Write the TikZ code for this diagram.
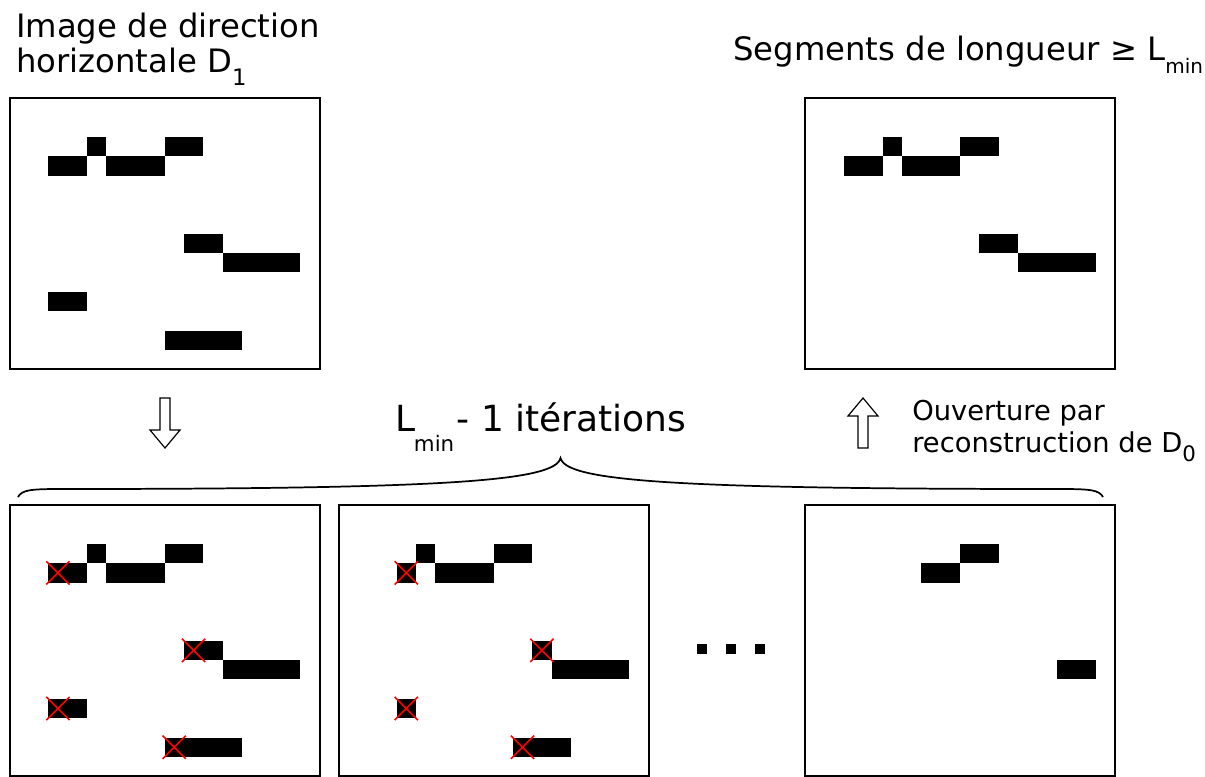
\documentclass[tikz,border=0pt]{standalone}
\usepackage{fontspec}
\setmainfont{DejaVu Sans}

% indice abaisse (D_1, L_min) : descente, taille, texte
\newcommand{\indice}[3]{\raisebox{#1}{\fontsize{#2}{#2}\selectfont #3}}

\tikzset{
  cadre/.style={draw=black, line width=1.5pt},
  croix/.style={draw=red, line width=1.2pt},
  grille/.style={x=14.53125pt, y=-14.53125pt},
  titre/.style={font=\fontsize{24.2}{28}\selectfont, inner sep=0pt, anchor=base west},
  legende/.style={font=\fontsize{20.5}{24}\selectfont, inner sep=0pt, anchor=base west},
  fleche/.style={draw=black, line width=0.9pt, fill=white},
  fleche creuse/.pic={\path[fleche] (-5,-25) -- (-5,7) -- (-15,7) -- (0,25) -- (15,7) -- (5,7) -- (5,-25) -- cycle;}
}

\begin{document}
\begin{tikzpicture}[x=0.75pt, y=-0.75pt]
  \useasboundingbox (0,0) rectangle (1205,776);

  % Textes
  \node[titre] (imgA) at (16,37) {Image de direction};
  \node[titre] (imgB) at (16,72) {horizontale D\indice{-10pt}{17}{1}};
  \node[titre] (segm) at (733,60) {Segments de longueur ≥ L\indice{-10pt}{15}{min}};
  \node[titre, font=\fontsize{27}{30}\selectfont] (iter) at (395,431) {L\kern-1pt\indice{-15pt}{16}{min}\kern2pt- 1 itérations};
  \node[legende] (ouv1) at (912,420) {Ouverture par};
  \node[legende] (ouv2) at (912,452) {reconstruction de D\indice{-7pt}{16}{0}};

  % Coins des images
  \foreach \nom/\x/\y in {A/9.5/98, B/805/98, C/9.5/505, D/338.5/505, E/805/505}
    \coordinate (\nom) at (\x,\y);

  % Image D1
  \begin{scope}[shift={(A)}, grille]
    \draw[cadre] (0,0) rectangle (16,14);
    \foreach \c/\r/\n in {2/3/2, 4/2/1, 5/3/3, 8/2/2, 9/7/2, 11/8/4, 2/10/2, 8/12/4}
      \fill (\c,\r) rectangle ++(\n,1);
  \end{scope}

  % Segments gardes
  \begin{scope}[shift={(B)}, grille]
    \draw[cadre] (0,0) rectangle (16,14);
    \foreach \c/\r/\n in {2/3/2, 4/2/1, 5/3/3, 8/2/2, 9/7/2, 11/8/4}
      \fill (\c,\r) rectangle ++(\n,1);
  \end{scope}

  % Iteration 1
  \begin{scope}[shift={(C)}, grille]
    \draw[cadre] (0,0) rectangle (16,14);
    \foreach \c/\r/\n in {2/3/2, 4/2/1, 5/3/3, 8/2/2, 9/7/2, 11/8/4, 2/10/2, 8/12/4}
      \fill (\c,\r) rectangle ++(\n,1);
    \foreach \c/\r in {2/3, 9/7, 2/10, 8/12}
      \draw[croix] (\c-0.1,\r-0.1) -- (\c+1.1,\r+1.1) (\c-0.1,\r+1.1) -- (\c+1.1,\r-0.1);
  \end{scope}

  % Iteration 2
  \begin{scope}[shift={(D)}, grille]
    \draw[cadre] (0,0) rectangle (16,14);
    \foreach \c/\r/\n in {3/3/1, 4/2/1, 5/3/3, 8/2/2, 10/7/1, 11/8/4, 3/10/1, 9/12/3}
      \fill (\c,\r) rectangle ++(\n,1);
    \foreach \c/\r in {3/3, 10/7, 3/10, 9/12}
      \draw[croix] (\c-0.1,\r-0.1) -- (\c+1.1,\r+1.1) (\c-0.1,\r+1.1) -- (\c+1.1,\r-0.1);
  \end{scope}

  % Derniere iteration
  \begin{scope}[shift={(E)}, grille]
    \draw[cadre] (0,0) rectangle (16,14);
    \foreach \c/\r/\n in {6/3/2, 8/2/2, 13/8/2}
      \fill (\c,\r) rectangle ++(\n,1);
  \end{scope}

  % Points de suspension
  \foreach \x in {702,731,760}
    \fill (\x-5,644) rectangle ++(10,10);

  % Fleches
  \pic at (165,423) {fleche creuse};
  \pic[yscale=-1] at (863,423) {fleche creuse};

  % Accolade
  \coordinate (accG) at (18,497);
  \coordinate (accD) at (1103,497);
  \coordinate (accH) at (560.5,458);
  \draw[line width=1.3pt] (accG) .. controls (22,490) and (30,489) .. (60,489)
    .. controls (450,489) and (555,481) .. (accH)
    .. controls (566,481) and (671,489) .. (1061,489)
    .. controls (1091,489) and (1099,490) .. (accD);
\end{tikzpicture}
\end{document}
